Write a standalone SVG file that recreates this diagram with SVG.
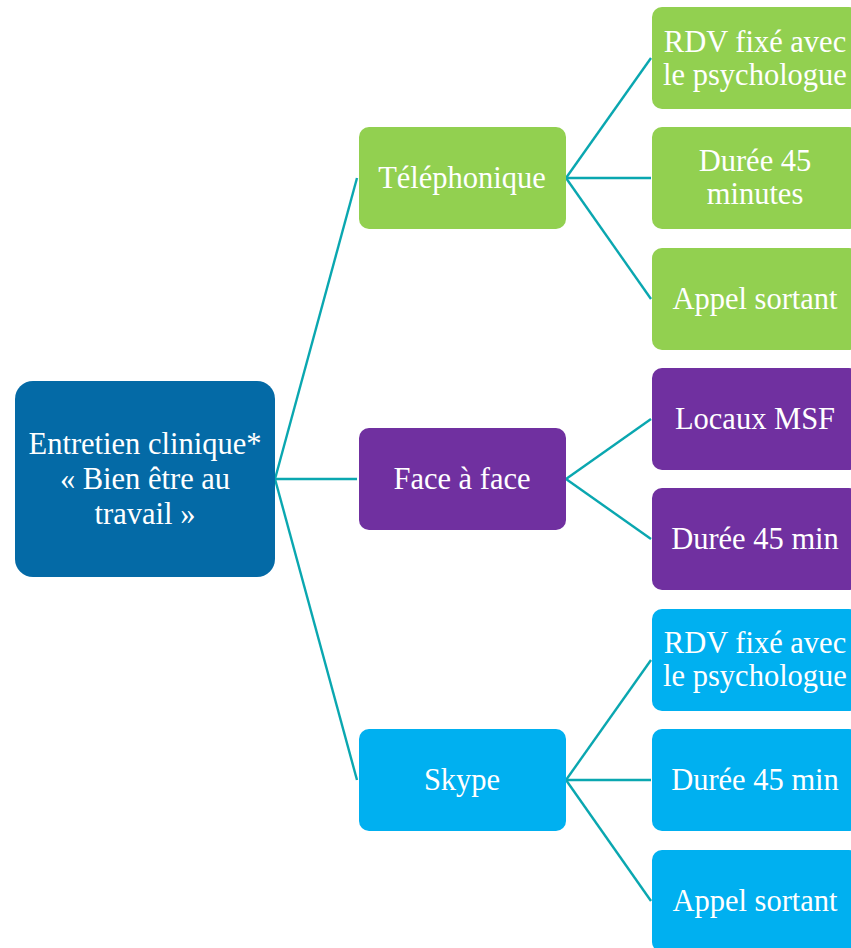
<svg xmlns="http://www.w3.org/2000/svg" width="851" height="948" viewBox="0 0 851 948">
  <style>
    .lbl { font-family: "Liberation Serif", "Times New Roman", serif; font-size: 30.5px; fill: #ffffff; text-anchor: middle; }
    .root { fill: #046AA6; }
    .green { fill: #92D050; }
    .purple { fill: #7030A0; }
    .cyan { fill: #00B0F0; }
    .link { stroke: #0AA7B0; stroke-width: 2.4; fill: none; }
  </style>
  <rect width="851" height="948" fill="#ffffff"/>

  <g id="connectors">
    <line class="link" x1="275" y1="479" x2="357" y2="178"/>
    <line class="link" x1="275" y1="479" x2="357" y2="479"/>
    <line class="link" x1="275" y1="479" x2="357" y2="780"/>

    <line class="link" x1="566" y1="178" x2="651" y2="58"/>
    <line class="link" x1="566" y1="178" x2="651" y2="178"/>
    <line class="link" x1="566" y1="178" x2="651" y2="299"/>

    <line class="link" x1="566" y1="479" x2="651" y2="419"/>
    <line class="link" x1="566" y1="479" x2="651" y2="539"/>

    <line class="link" x1="566" y1="780" x2="651" y2="660"/>
    <line class="link" x1="566" y1="780" x2="651" y2="780"/>
    <line class="link" x1="566" y1="780" x2="651" y2="901"/>
  </g>

  <g id="root-node">
    <rect class="root" x="15" y="381" width="260" height="196" rx="18"/>
    <text class="lbl" x="145" y="454">Entretien clinique*</text>
    <text class="lbl" x="145" y="489">« Bien être au</text>
    <text class="lbl" x="145" y="524">travail »</text>
  </g>

  <g id="telephonique">
    <rect class="green" x="359" y="127" width="207" height="102" rx="10"/>
    <text class="lbl" x="462" y="188">Téléphonique</text>
  </g>
  <g id="face-a-face">
    <rect class="purple" x="359" y="428" width="207" height="102" rx="10"/>
    <text class="lbl" x="462" y="489">Face à face</text>
  </g>
  <g id="skype">
    <rect class="cyan" x="359" y="729" width="207" height="102" rx="10"/>
    <text class="lbl" x="462" y="790">Skype</text>
  </g>

  <g id="tel-rdv">
    <rect class="green" x="652" y="7" width="207" height="102" rx="10"/>
    <text class="lbl" x="755" y="52">RDV fixé avec</text>
    <text class="lbl" x="755" y="85">le psychologue</text>
  </g>
  <g id="tel-duree">
    <rect class="green" x="652" y="127" width="207" height="102" rx="10"/>
    <text class="lbl" x="755" y="171">Durée 45</text>
    <text class="lbl" x="755" y="204">minutes</text>
  </g>
  <g id="tel-appel">
    <rect class="green" x="652" y="248" width="207" height="102" rx="10"/>
    <text class="lbl" x="755" y="309">Appel sortant</text>
  </g>

  <g id="face-locaux">
    <rect class="purple" x="652" y="368" width="207" height="102" rx="10"/>
    <text class="lbl" x="755" y="429">Locaux MSF</text>
  </g>
  <g id="face-duree">
    <rect class="purple" x="652" y="488" width="207" height="102" rx="10"/>
    <text class="lbl" x="755" y="549">Durée 45 min</text>
  </g>

  <g id="skype-rdv">
    <rect class="cyan" x="652" y="609" width="207" height="102" rx="10"/>
    <text class="lbl" x="755" y="653">RDV fixé avec</text>
    <text class="lbl" x="755" y="686">le psychologue</text>
  </g>
  <g id="skype-duree">
    <rect class="cyan" x="652" y="729" width="207" height="102" rx="10"/>
    <text class="lbl" x="755" y="790">Durée 45 min</text>
  </g>
  <g id="skype-appel">
    <rect class="cyan" x="652" y="850" width="207" height="102" rx="10"/>
    <text class="lbl" x="755" y="911">Appel sortant</text>
  </g>
</svg>
